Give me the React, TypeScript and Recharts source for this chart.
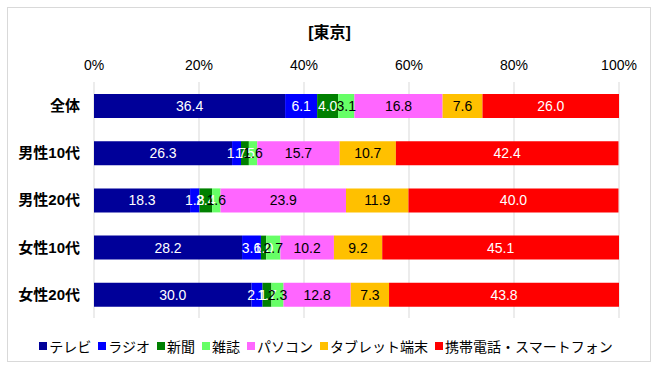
import React from "react";
import {
  BarChart,
  Bar,
  XAxis,
  YAxis,
  CartesianGrid,
  Legend,
  LabelList,
} from "recharts";

const categories = ["全体", "男性10代", "男性20代", "女性10代", "女性20代"];

const tv = [36.4, 26.3, 18.3, 28.2, 30.0];
const radio = [6.1, 1.7, 1.8, 3.6, 2.1];
const newspaper = [4.0, 1.5, 2.4, 1.0, 1.7];
const magazine = [3.1, 1.6, 1.6, 2.7, 2.3];
const pc = [16.8, 15.7, 23.9, 10.2, 12.8];
const tablet = [7.6, 10.7, 11.9, 9.2, 7.3];
const mobile = [26.0, 42.4, 40.0, 45.1, 43.8];

const xTicks = [0, 20, 40, 60, 80, 100];

const series = [
  { key: "テレビ", values: tv, color: "#000099", label: "#ffffff" },
  { key: "ラジオ", values: radio, color: "#0000ff", label: "#ffffff" },
  { key: "新聞", values: newspaper, color: "#008000", label: "#ffffff" },
  { key: "雑誌", values: magazine, color: "#66ff66", label: "#000000" },
  { key: "パソコン", values: pc, color: "#ff66ff", label: "#000000" },
  { key: "タブレット端末", values: tablet, color: "#ffc000", label: "#000000" },
  { key: "携帯電話・スマートフォン", values: mobile, color: "#ff0000", label: "#ffffff" },
];

const data = categories.map((name, i) => {
  const row: Record<string, string | number> = { name };
  series.forEach((s) => {
    row[s.key] = s.values[i];
  });
  return row;
});

const font = "'Liberation Sans', 'Noto Sans CJK JP', sans-serif";

// keep the legend in series order, one row
function renderLegend() {
  return (
    <div
      style={{
        display: "flex",
        justifyContent: "center",
        height: 20,
        alignItems: "center",
        fontSize: 14,
        fontFamily: font,
        color: "#000",
      }}
    >
      {series.map((s) => (
        <span key={s.key} style={{ display: "flex", alignItems: "center", marginRight: 7 }}>
          <span style={{ width: 8, height: 8, background: s.color, marginRight: 2 }} />
          {s.key}
        </span>
      ))}
    </div>
  );
}

export default function App() {
  return (
    <div style={{ position: "absolute", left: 0, top: 0, width: 659, height: 372, fontFamily: font }}>
      <div
        style={{
          position: "absolute",
          left: 7,
          top: 7,
          width: 644,
          height: 355,
          border: "1px solid #d9d9d9",
          boxSizing: "border-box",
        }}
      />
      <div
        style={{
          position: "absolute",
          left: 0,
          width: 659,
          top: 19,
          textAlign: "center",
          fontSize: 16,
          fontWeight: "bold",
          color: "#000",
        }}
      >
        [東京]
      </div>
      <BarChart
        width={659}
        height={372}
        data={data}
        layout="vertical"
        margin={{ top: 50, right: 40, bottom: 34, left: 0 }}
        barCategoryGap="49%"
      >
        <CartesianGrid horizontal={false} stroke="#d9d9d9" />
        <XAxis
          type="number"
          orientation="top"
          domain={[0, 100]}
          ticks={xTicks}
          height={32}
          axisLine={false}
          tickLine={false}
          tickSize={0}
          tickMargin={12}
          tick={{ fill: "#000", fontSize: 14, fontFamily: font }}
          tickFormatter={(v) => `${v}%`}
          interval={0}
        />
        <YAxis
          type="category"
          dataKey="name"
          width={94}
          axisLine={false}
          tickLine={false}
          tickSize={0}
          tickMargin={14}
          tick={{ fill: "#000", fontSize: 15, fontWeight: "bold", fontFamily: font }}
        />
        <Legend
          verticalAlign="bottom"
          align="center"
          height={20}
          wrapperStyle={{ bottom: 16, left: 20, width: 619 }}
          content={renderLegend}
        />
        {series.map((s) => (
          <Bar
            key={s.key}
            dataKey={s.key}
            stackId="a"
            fill={s.color}
            barSize={24}
            isAnimationActive={false}
          >
            <LabelList
              dataKey={s.key}
              position="center"
              fill={s.label}
              fontSize={14}
              fontFamily={font}
              formatter={(v: number) => v.toFixed(1)}
            />
          </Bar>
        ))}
      </BarChart>
    </div>
  );
}
